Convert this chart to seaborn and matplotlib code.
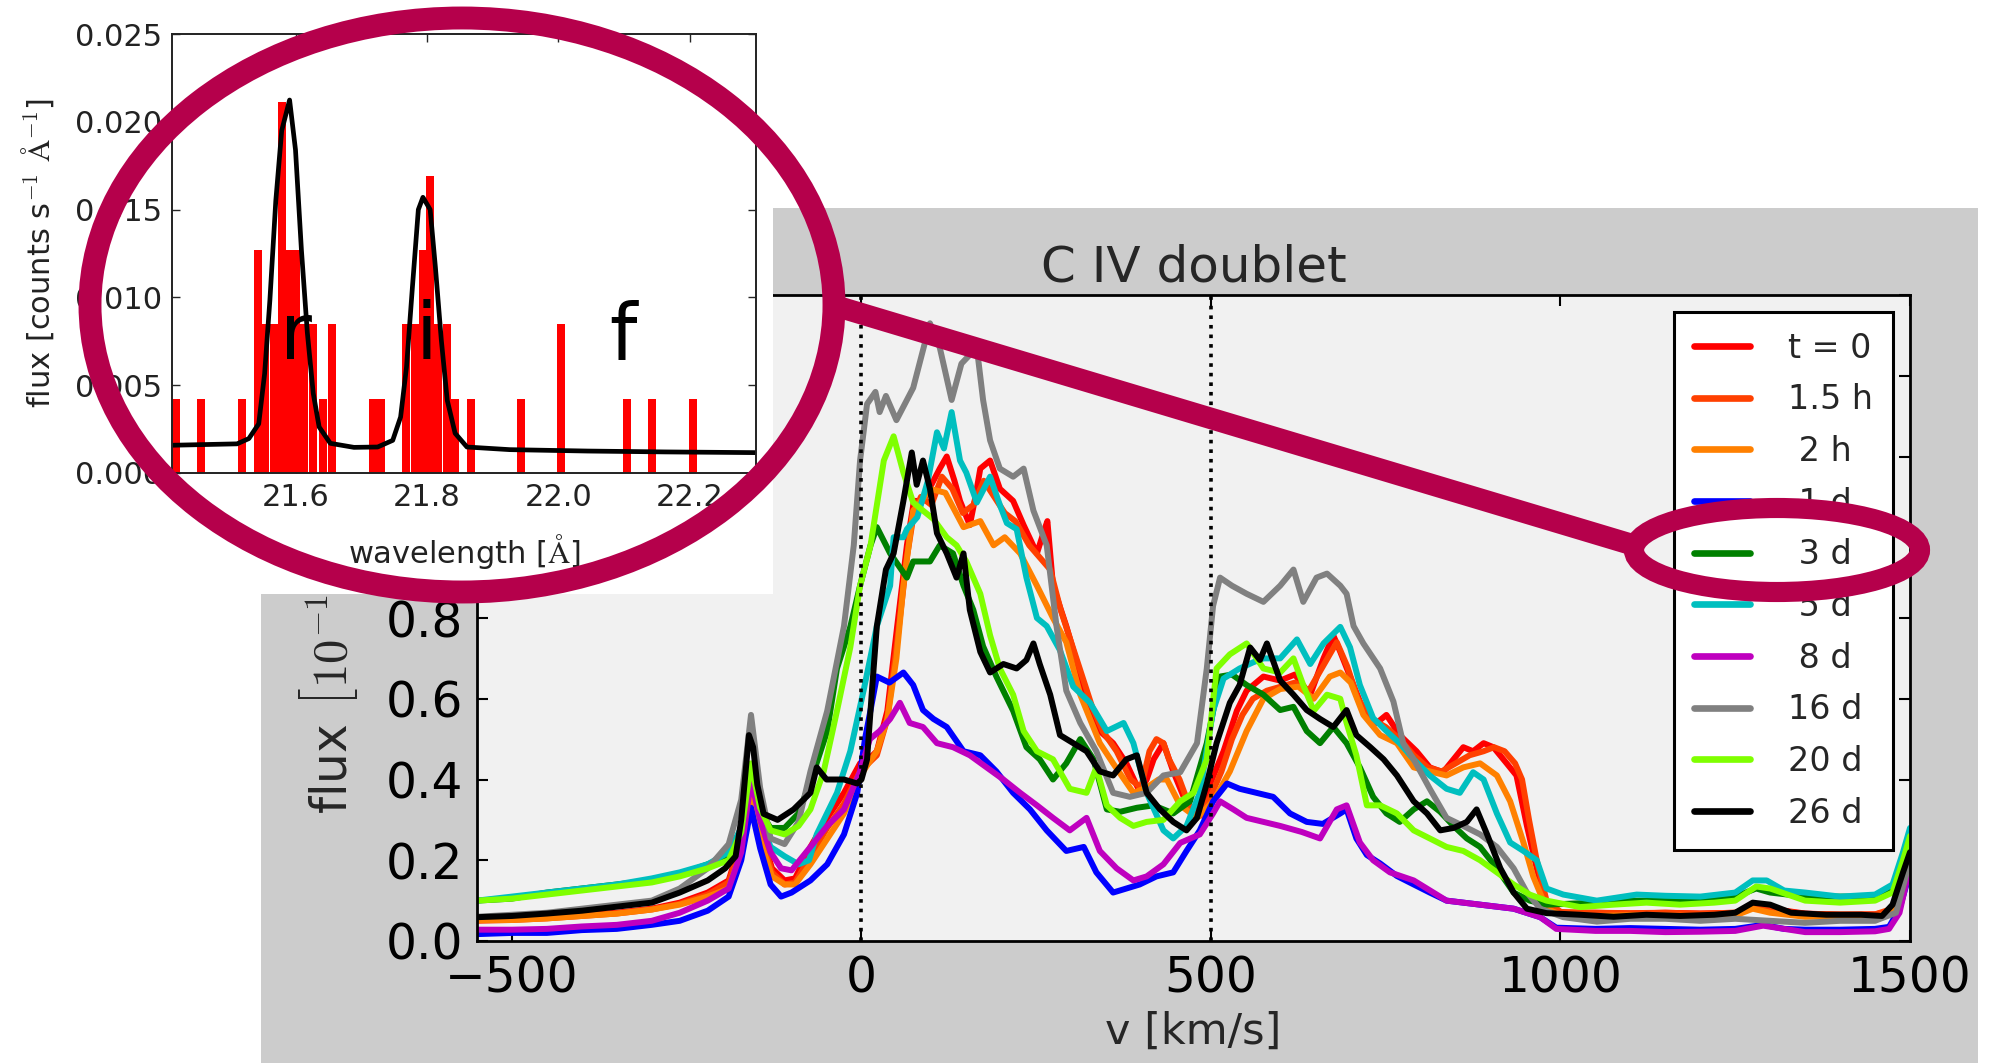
import numpy as np
import pandas as pd
import matplotlib
matplotlib.use("Agg")
import matplotlib.pyplot as plt
import seaborn as sns
from matplotlib.patches import Ellipse, Rectangle
from matplotlib.lines import Line2D

# ---------------- data: main panel (v [km/s], flux) ----------------
S_T0 = [(-550,0.053),(-500,0.055),(-450,0.058),(-400,0.065),(-350,0.070),(-300,0.080),(-260,0.095),(-220,0.120),(-190,0.150),(-172,0.25),(-158,0.38),(-145,0.28),(-128,0.18),(-110,0.15),(-95,0.155),(-73,0.233),(-49,0.305),(-25,0.367),(-2,0.44),(10,0.45),(22,0.47),(37,0.57),(51,0.778),(65,0.98),(75,1.09),(88,1.09),(100,1.13),(112,1.17),(122,1.20),(133,1.14),(141,1.09),(155,1.03),(163,1.10),(170,1.17),(184,1.19),(198,1.12),(217,1.09),(232,1.03),(251,0.96),(262,1.02),(266,1.04),(274,0.88),(293,0.78),(313,0.66),(322,0.59),(341,0.52),(360,0.49),(379,0.44),(398,0.37),(408,0.40),(418,0.45),(432,0.49),(446,0.42),(465,0.34),(484,0.32),(499,0.39),(518,0.47),(537,0.57),(551,0.62),(575,0.655),(599,0.645),(620,0.66),(642,0.61),(661,0.70),(675,0.757),(685,0.716),(699,0.655),(718,0.572),(737,0.54),(751,0.56),(770,0.51),(794,0.47),(813,0.43),(832,0.418),(847,0.45),(861,0.48),(875,0.47),(890,0.49),(904,0.48),(923,0.44),(937,0.41),(952,0.285),(966,0.18),(980,0.09),(1004,0.069),(1050,0.070),(1100,0.068),(1150,0.070),(1200,0.068),(1250,0.070),(1275,0.085),(1300,0.080),(1350,0.068),(1400,0.065),(1450,0.066),(1475,0.075),(1490,0.16),(1500,0.24)]
S_15H = [(-550,0.050),(-500,0.052),(-450,0.056),(-400,0.062),(-350,0.068),(-300,0.078),(-260,0.092),(-220,0.115),(-190,0.145),(-172,0.24),(-158,0.36),(-145,0.27),(-128,0.17),(-110,0.14),(-95,0.145),(-73,0.21),(-49,0.28),(-25,0.34),(-2,0.42),(10,0.44),(22,0.46),(37,0.55),(51,0.74),(65,0.95),(75,1.06),(85,1.10),(100,1.08),(115,1.15),(130,1.12),(145,1.06),(160,1.08),(175,1.14),(190,1.10),(205,1.06),(220,1.04),(240,0.98),(255,0.95),(270,0.92),(285,0.82),(300,0.74),(315,0.66),(330,0.58),(345,0.52),(365,0.47),(385,0.40),(400,0.38),(412,0.47),(422,0.50),(432,0.49),(440,0.45),(455,0.40),(470,0.33),(485,0.31),(500,0.36),(515,0.42),(530,0.50),(545,0.56),(560,0.60),(580,0.62),(600,0.63),(620,0.64),(640,0.62),(660,0.68),(680,0.74),(695,0.68),(710,0.60),(730,0.55),(750,0.53),(770,0.50),(790,0.46),(810,0.43),(830,0.42),(850,0.44),(870,0.46),(890,0.47),(905,0.48),(920,0.47),(935,0.44),(945,0.40),(955,0.30),(966,0.20),(980,0.10),(1000,0.072),(1050,0.070),(1100,0.069),(1150,0.070),(1200,0.068),(1250,0.070),(1275,0.085),(1300,0.078),(1350,0.067),(1400,0.066),(1450,0.066),(1475,0.08),(1490,0.17),(1500,0.25)]
S_2H = [(-550,0.052),(-500,0.052),(-450,0.056),(-400,0.062),(-350,0.068),(-300,0.078),(-260,0.090),(-220,0.110),(-190,0.130),(-172,0.22),(-158,0.36),(-145,0.25),(-128,0.16),(-110,0.14),(-95,0.14),(-73,0.19),(-49,0.253),(-25,0.316),(-2,0.408),(10,0.44),(22,0.47),(37,0.55),(50,0.70),(60,0.88),(74,1.066),(90,1.10),(98,1.12),(120,1.11),(146,1.025),(170,1.04),(189,0.98),(205,1.00),(227,0.96),(251,0.88),(274,0.80),(293,0.74),(313,0.61),(341,0.49),(360,0.44),(389,0.367),(408,0.38),(425,0.40),(437,0.40),(456,0.336),(480,0.305),(503,0.346),(527,0.42),(551,0.52),(575,0.60),(599,0.624),(625,0.63),(647,0.60),(670,0.655),(685,0.665),(700,0.64),(718,0.56),(742,0.51),(766,0.49),(790,0.43),(813,0.42),(837,0.41),(861,0.43),(885,0.44),(909,0.41),(928,0.346),(947,0.244),(961,0.16),(980,0.08),(1000,0.065),(1050,0.062),(1100,0.064),(1150,0.063),(1200,0.062),(1250,0.063),(1275,0.08),(1300,0.070),(1350,0.060),(1400,0.062),(1450,0.060),(1475,0.07),(1490,0.15),(1500,0.23)]
S_1D = [(-550,0.017),(-500,0.020),(-450,0.020),(-400,0.027),(-350,0.030),(-300,0.040),(-260,0.050),(-220,0.075),(-190,0.11),(-172,0.20),(-158,0.33),(-145,0.23),(-130,0.14),(-115,0.11),(-100,0.12),(-73,0.15),(-49,0.19),(-25,0.264),(-6,0.367),(5,0.50),(13,0.572),(22,0.655),(40,0.64),(60,0.665),(74,0.634),(88,0.572),(103,0.55),(122,0.53),(146,0.47),(170,0.46),(193,0.42),(217,0.367),(241,0.326),(265,0.274),(293,0.223),(318,0.233),(336,0.17),(360,0.12),(379,0.13),(398,0.14),(422,0.16),(446,0.17),(465,0.223),(484,0.274),(503,0.346),(523,0.39),(541,0.377),(565,0.367),(589,0.357),(613,0.316),(637,0.295),(660,0.29),(685,0.316),(694,0.326),(708,0.254),(723,0.213),(742,0.192),(766,0.161),(790,0.14),(813,0.12),(837,0.10),(885,0.09),(933,0.08),(971,0.059),(994,0.033),(1050,0.030),(1100,0.032),(1150,0.030),(1200,0.028),(1250,0.030),(1290,0.040),(1320,0.030),(1350,0.028),(1400,0.028),(1450,0.030),(1470,0.035),(1485,0.08),(1500,0.17)]
S_3D = [(-550,0.10),(-500,0.105),(-450,0.12),(-400,0.13),(-350,0.14),(-300,0.15),(-260,0.165),(-220,0.19),(-190,0.21),(-172,0.28),(-158,0.43),(-145,0.32),(-130,0.28),(-110,0.28),(-90,0.316),(-70,0.41),(-49,0.52),(-35,0.675),(-16,0.778),(-2,0.88),(13,0.98),(22,1.025),(41,0.96),(65,0.90),(74,0.94),(98,0.94),(112,0.98),(131,0.96),(146,0.88),(160,0.82),(174,0.73),(193,0.655),(217,0.57),(236,0.48),(255,0.45),(274,0.40),(293,0.44),(313,0.50),(332,0.45),(351,0.326),(370,0.32),(394,0.33),(418,0.336),(446,0.316),(470,0.346),(494,0.49),(513,0.655),(530,0.66),(551,0.634),(575,0.61),(599,0.572),(618,0.58),(637,0.52),(656,0.49),(675,0.53),(694,0.49),(713,0.43),(732,0.357),(751,0.316),(770,0.295),(790,0.326),(809,0.346),(828,0.32),(847,0.285),(866,0.254),(885,0.233),(909,0.18),(933,0.12),(956,0.10),(980,0.09),(1050,0.095),(1100,0.10),(1150,0.10),(1200,0.105),(1250,0.11),(1280,0.13),(1300,0.12),(1350,0.11),(1400,0.11),(1450,0.11),(1475,0.13),(1490,0.19),(1500,0.26)]
S_5D = [(-550,0.10),(-500,0.11),(-450,0.12),(-400,0.13),(-350,0.14),(-300,0.155),(-260,0.17),(-220,0.19),(-190,0.22),(-172,0.28),(-158,0.42),(-145,0.30),(-130,0.233),(-110,0.21),(-90,0.19),(-75,0.20),(-64,0.264),(-35,0.367),(-16,0.47),(3,0.62),(22,0.78),(41,0.88),(46,1.0),(60,1.0),(65,1.02),(80,1.05),(95,1.14),(108,1.26),(118,1.22),(129,1.31),(141,1.19),(150,1.16),(165,1.086),(184,1.15),(198,1.08),(208,1.035),(222,1.02),(236,0.90),(251,0.80),(265,0.78),(284,0.72),(303,0.63),(327,0.59),(351,0.52),(375,0.54),(389,0.49),(408,0.367),(432,0.274),(446,0.254),(465,0.285),(484,0.367),(503,0.57),(518,0.65),(541,0.675),(560,0.69),(575,0.70),(599,0.70),(623,0.747),(642,0.686),(661,0.737),(685,0.778),(699,0.727),(713,0.634),(732,0.552),(751,0.52),(770,0.49),(790,0.45),(813,0.41),(837,0.377),(856,0.367),(875,0.418),(890,0.40),(909,0.316),(928,0.244),(947,0.223),(966,0.20),(980,0.13),(1004,0.115),(1052,0.10),(1109,0.115),(1150,0.112),(1200,0.11),(1250,0.12),(1275,0.15),(1295,0.15),(1320,0.125),(1350,0.12),(1400,0.11),(1450,0.115),(1475,0.14),(1490,0.22),(1500,0.28)]
S_8D = [(-550,0.028),(-500,0.028),(-450,0.030),(-400,0.036),(-350,0.040),(-300,0.050),(-260,0.070),(-220,0.100),(-190,0.13),(-172,0.22),(-158,0.40),(-145,0.30),(-130,0.22),(-115,0.18),(-100,0.175),(-73,0.233),(-49,0.285),(-25,0.326),(-2,0.42),(12,0.50),(26,0.52),(41,0.55),(55,0.59),(69,0.54),(88,0.53),(108,0.49),(131,0.48),(155,0.46),(179,0.43),(203,0.40),(227,0.367),(251,0.336),(274,0.305),(298,0.274),(322,0.305),(341,0.223),(365,0.18),(389,0.15),(408,0.16),(432,0.19),(456,0.243),(484,0.264),(503,0.316),(513,0.346),(532,0.326),(551,0.305),(575,0.295),(599,0.285),(630,0.27),(656,0.254),(680,0.326),(694,0.336),(713,0.244),(732,0.20),(756,0.17),(790,0.15),(837,0.10),(885,0.09),(933,0.08),(971,0.059),(994,0.030),(1050,0.025),(1100,0.025),(1150,0.022),(1200,0.023),(1250,0.025),(1290,0.038),(1320,0.030),(1350,0.022),(1400,0.022),(1450,0.024),(1470,0.030),(1485,0.07),(1500,0.185)]
S_16D = [(-550,0.06),(-500,0.065),(-450,0.07),(-400,0.08),(-350,0.09),(-300,0.10),(-260,0.13),(-220,0.18),(-190,0.24),(-172,0.35),(-158,0.56),(-145,0.38),(-130,0.254),(-110,0.24),(-90,0.295),(-73,0.42),(-49,0.57),(-25,0.78),(-11,0.98),(-2,1.19),(8,1.33),(20,1.36),(26,1.31),(35,1.35),(50,1.29),(74,1.37),(98,1.53),(112,1.47),(129,1.34),(143,1.43),(165,1.47),(174,1.34),(184,1.24),(198,1.17),(217,1.15),(232,1.17),(246,1.066),(265,0.98),(279,0.78),(293,0.62),(313,0.54),(336,0.47),(360,0.367),(384,0.357),(408,0.367),(432,0.41),(456,0.418),(480,0.49),(494,0.675),(503,0.83),(513,0.90),(530,0.88),(551,0.86),(575,0.84),(599,0.88),(618,0.92),(632,0.84),(651,0.90),(666,0.91),(685,0.88),(694,0.86),(704,0.78),(718,0.737),(742,0.675),(761,0.593),(775,0.49),(790,0.45),(813,0.377),(837,0.305),(861,0.285),(885,0.264),(909,0.233),(933,0.18),(952,0.12),(971,0.08),(1004,0.059),(1052,0.048),(1100,0.055),(1150,0.055),(1200,0.050),(1250,0.055),(1300,0.050),(1350,0.045),(1400,0.050),(1450,0.050),(1480,0.07),(1500,0.20)]
S_20D = [(-550,0.10),(-500,0.105),(-450,0.115),(-400,0.125),(-350,0.135),(-300,0.145),(-260,0.16),(-220,0.18),(-190,0.20),(-172,0.27),(-158,0.44),(-145,0.33),(-130,0.274),(-110,0.264),(-90,0.285),(-73,0.326),(-54,0.42),(-35,0.57),(-16,0.727),(-2,0.88),(13,0.98),(32,1.19),(46,1.25),(60,1.16),(74,1.086),(88,1.066),(103,1.045),(122,1.0),(136,0.98),(150,0.94),(170,0.86),(184,0.757),(198,0.675),(217,0.61),(232,0.52),(251,0.47),(274,0.45),(298,0.377),(322,0.367),(336,0.43),(351,0.336),(370,0.305),(389,0.285),(408,0.295),(432,0.30),(456,0.346),(475,0.367),(494,0.45),(508,0.675),(527,0.71),(551,0.737),(575,0.675),(599,0.665),(618,0.70),(632,0.634),(647,0.57),(666,0.61),(685,0.60),(694,0.54),(708,0.46),(723,0.336),(742,0.336),(766,0.316),(790,0.274),(813,0.254),(837,0.233),(861,0.223),(885,0.20),(909,0.17),(933,0.14),(956,0.115),(980,0.10),(1028,0.084),(1076,0.09),(1123,0.095),(1171,0.09),(1220,0.095),(1250,0.10),(1280,0.135),(1300,0.13),(1350,0.10),(1400,0.095),(1450,0.10),(1475,0.12),(1490,0.20),(1500,0.26)]
S_26D = [(-550,0.059),(-500,0.062),(-450,0.068),(-400,0.075),(-350,0.085),(-300,0.095),(-260,0.12),(-220,0.15),(-195,0.18),(-180,0.21),(-172,0.30),(-161,0.51),(-155,0.48),(-149,0.387),(-140,0.315),(-120,0.30),(-97,0.326),(-73,0.367),(-64,0.43),(-50,0.40),(-25,0.40),(-6,0.39),(0,0.40),(8,0.45),(15,0.62),(22,0.78),(35,0.92),(46,0.96),(60,1.09),(72,1.21),(79,1.13),(88,1.19),(98,1.12),(108,1.01),(122,0.96),(136,0.90),(146,0.96),(155,0.82),(170,0.716),(184,0.665),(203,0.686),(222,0.675),(236,0.696),(246,0.737),(255,0.686),(270,0.61),(284,0.51),(303,0.49),(322,0.47),(341,0.42),(360,0.41),(379,0.45),(394,0.46),(408,0.367),(427,0.326),(446,0.295),(465,0.274),(480,0.305),(494,0.39),(508,0.49),(527,0.59),(541,0.634),(556,0.727),(570,0.696),(580,0.737),(599,0.645),(618,0.61),(637,0.572),(656,0.55),(675,0.53),(694,0.572),(708,0.51),(728,0.48),(747,0.45),(766,0.41),(790,0.346),(809,0.316),(828,0.274),(847,0.28),(866,0.295),(880,0.326),(895,0.264),(914,0.18),(933,0.12),(952,0.08),(980,0.069),(1028,0.065),(1076,0.060),(1123,0.065),(1171,0.062),(1220,0.065),(1250,0.07),(1275,0.095),(1300,0.09),(1330,0.07),(1380,0.065),(1430,0.065),(1460,0.062),(1475,0.09),(1490,0.17),(1500,0.22)]

SERIES_LABELS = ["t = 0", "1.5 h", " 2 h", " 1 d", " 3 d", " 5 d", " 8 d", "16 d", "20 d", "26 d"]
SERIES_COLORS = ["#ff0000", "#ff4000", "#ff8000", "#0000ff", "#008000",
                 "#00bfbf", "#bf00bf", "#808080", "#7fff00", "#000000"]
SERIES_DATA = [S_T0, S_15H, S_2H, S_1D, S_3D, S_5D, S_8D, S_16D, S_20D, S_26D]
X_TICKS = [-500, 0, 500, 1000, 1500]
Y_TICKS = [0.0, 0.2, 0.4, 0.6, 0.8, 1.0, 1.2, 1.4, 1.6]
LINE_MARKS = [0, 500]

# ---------------- data: inset (He-like triplet) ----------------
BIN_WAVE = [21.418, 21.456, 21.519, 21.543, 21.554, 21.567, 21.580, 21.590, 21.600,
            21.613, 21.627, 21.642, 21.655, 21.718, 21.730, 21.768, 21.782, 21.794,
            21.805, 21.817, 21.831, 21.843, 21.867, 21.943, 22.004, 22.105, 22.142, 22.205]
BIN_FLUX = [0.00423, 0.00423, 0.00423, 0.01270, 0.00846, 0.00846, 0.02115, 0.01270, 0.01270,
            0.00846, 0.00846, 0.00423, 0.00846, 0.00423, 0.00423, 0.00846, 0.00846, 0.01270,
            0.01692, 0.00846, 0.00846, 0.00423, 0.00423, 0.00423, 0.00846, 0.00423, 0.00423, 0.00423]
MODEL_WAVE = [21.412, 21.511, 21.529, 21.544, 21.553, 21.561, 21.570, 21.579, 21.591, 21.600,
              21.609, 21.618, 21.627, 21.636, 21.653, 21.689, 21.725, 21.748, 21.760, 21.769,
              21.778, 21.787, 21.794, 21.805, 21.813, 21.822, 21.831, 21.843, 21.861, 21.926,
              22.045, 22.163, 22.301]
MODEL_FLUX = [0.00158, 0.00166, 0.00196, 0.0028, 0.00566, 0.00984, 0.0155, 0.0195, 0.02124, 0.0184,
              0.0127, 0.0080, 0.00454, 0.00262, 0.00169, 0.00146, 0.00148, 0.00186, 0.00319, 0.00604,
              0.0106, 0.0150, 0.0157, 0.0150, 0.0117, 0.00756, 0.00414, 0.00226, 0.00148, 0.00133,
              0.00125, 0.00120, 0.00116]
LINE_NAMES = ["r", "i", "f"]
LINE_WAVE = [21.601, 21.800, 22.098]
INSET_XTICKS = [21.6, 21.8, 22.0, 22.2]
INSET_YTICKS = [0.0, 0.005, 0.010, 0.015, 0.020, 0.025]

# ---------------- style ----------------
sns.set_theme(style="ticks")
plt.rcParams.update({
    "font.family": ["DejaVu Sans"],
    "mathtext.fontset": "cm",
    "axes.unicode_minus": True,
})

W, H = 1994, 1063
fig = plt.figure(figsize=(W / 100, H / 100), dpi=100, facecolor="white")

def fx(px):
    return px / W

def fy(py):
    return 1 - py / H

ACCENT = "#b5004b"

# gray panel behind main chart
fig.add_artist(Rectangle((fx(261), 0), fx(1978) - fx(261), fy(208), transform=fig.transFigure,
                         facecolor="#cccccc", edgecolor="none", zorder=-5))

# ---------------- main axes ----------------
ax = fig.add_axes([fx(477), fy(941), (1910 - 477) / W, (941 - 295) / H], zorder=0)
ax.set_facecolor("#f1f1f1")

handles = []
for lab, col, dat in zip(SERIES_LABELS, SERIES_COLORS, SERIES_DATA):
    df = pd.DataFrame(dat, columns=["v", "flux"])
    n_before = len(ax.lines)
    sns.lineplot(data=df, x="v", y="flux", color=col, ax=ax, sort=False,
                 estimator=None, legend=False, zorder=2)
    for ln in ax.lines[n_before:]:
        ln.set_linewidth(4.3)
        ln.set_solid_joinstyle("round")
    handles.append(Line2D([], [], color=col, linewidth=4.8))

for xv in LINE_MARKS:
    ax.axvline(xv, color="black", ls=":", lw=2.6, zorder=3)

ax.set_xlim(-550, 1500)
ax.set_ylim(0, 1.6)
ax.set_xticks(X_TICKS)
ax.set_yticks(Y_TICKS)
ax.set_yticklabels([f"{t:.1f}" for t in Y_TICKS])
ax.tick_params(direction="in", top=True, right=True, length=8, width=1.5,
               labelsize=35, pad=10, colors="black")
for sp in ax.spines.values():
    sp.set_linewidth(2.0)
    sp.set_color("black")

ax.set_title("C IV doublet", fontsize=36, pad=10)
ax.set_xlabel("v [km/s]", fontsize=31)
ax.xaxis.set_label_coords(0.5, -0.108)

leg = ax.legend(handles, SERIES_LABELS, loc="upper right", fontsize=24, frameon=True,
                fancybox=False, edgecolor="black", facecolor="white", framealpha=1,
                borderpad=0.6, labelspacing=0.56, handlelength=1.68, handletextpad=1.15,
                borderaxespad=0.5)
leg.get_frame().set_linewidth(2.2)

YLABEL = r"flux $\left[10^{-15}\,\mathrm{erg\,cm^{-2}\,s^{-1}\,\AA^{-1}}\right]$"
ylab = ax.set_ylabel(YLABEL, fontsize=35)
xl = (360 - 477) / (1910 - 477)
ax.yaxis.set_label_coords(xl, 0.5)
fig.canvas.draw()
bb = ylab.get_window_extent()
shift = (H - 814) - bb.y0
ax.yaxis.set_label_coords(xl, 0.5 + shift / (941 - 295))

# white box of the inset
fig.add_artist(Rectangle((0, fy(594)), fx(773), 1 - fy(594), transform=fig.transFigure,
                         facecolor="white", edgecolor="none", zorder=1))

# ---------------- inset axes ----------------
axi = fig.add_axes([fx(172), fy(473), (756 - 172) / W, (473 - 34) / H], zorder=2)
axi.set_facecolor("white")
axi.bar(BIN_WAVE, BIN_FLUX, width=0.0122, color="#ff0000", linewidth=0, zorder=1)
sns.lineplot(x=MODEL_WAVE, y=MODEL_FLUX, color="black", ax=axi, sort=False,
             estimator=None, zorder=2)
for ln in axi.lines:
    ln.set_linewidth(3.4)
for nm, wv in zip(LINE_NAMES, LINE_WAVE):
    axi.text(wv, 0.0065, nm, fontsize=56, ha="center", va="baseline", color="black", zorder=3)
axi.set_xlim(21.412, 22.301)
axi.set_ylim(0, 0.025)
axi.set_xticks(INSET_XTICKS)
axi.set_xticklabels([f"{t:.1f}" for t in INSET_XTICKS])
axi.set_yticks(INSET_YTICKS)
axi.set_yticklabels([f"{t:.3f}" for t in INSET_YTICKS])
axi.tick_params(direction="in", top=True, right=True, length=6, width=1.0,
                labelsize=22, pad=7, labelcolor="#222222")
for sp in axi.spines.values():
    sp.set_linewidth(1.4)
    sp.set_color("#222222")
axi.set_xlabel(r"wavelength [$\mathrm{\AA}$]", fontsize=22, color="#222222")
axi.xaxis.set_label_coords(0.5, -0.135)
axi.set_ylabel(r"flux [counts s$^{-1}$ $\mathrm{\AA}^{-1}$]", fontsize=22, color="#222222")
axi.yaxis.set_label_coords((56 - 172) / (756 - 172), 0.5)

# ---------------- callout shapes ----------------
fig.add_artist(Ellipse((fx(462), fy(305)), 744 / W, 574 / H, transform=fig.transFigure,
                       fill=False, edgecolor=ACCENT, lw=16.5, zorder=10))
fig.add_artist(Ellipse((fx(1777), fy(550)), 286 / W, 84 / H, transform=fig.transFigure,
                       fill=False, edgecolor=ACCENT, lw=14.5, zorder=10))
fig.add_artist(Line2D([fx(839), fx(1640)], [fy(307), fy(547)], transform=fig.transFigure,
                      color=ACCENT, lw=15.5, solid_capstyle="butt", zorder=10))

fig.savefig("out.png", dpi=100, facecolor="white")
